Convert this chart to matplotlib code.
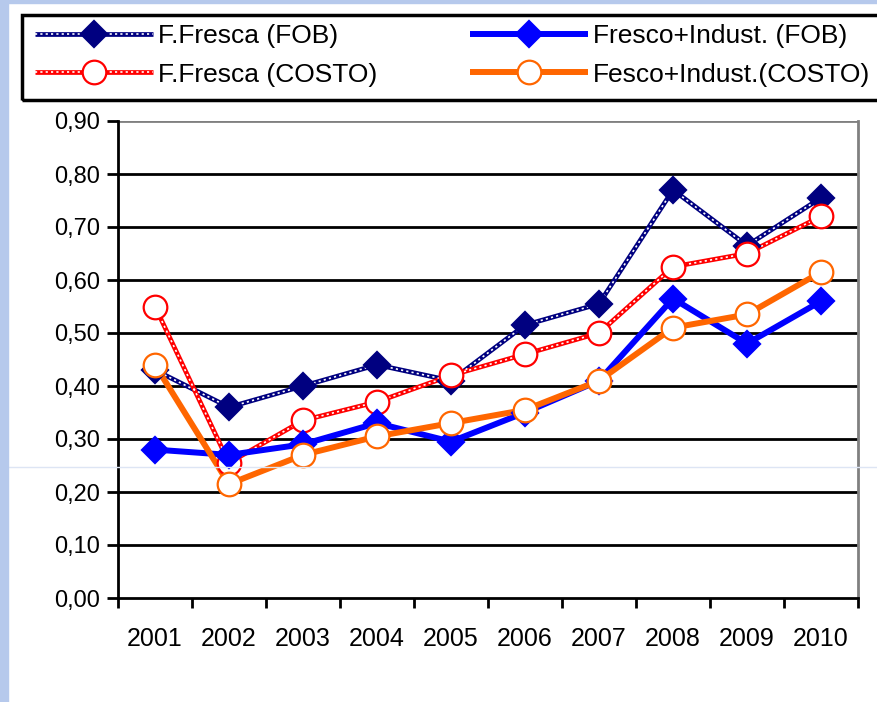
import matplotlib
matplotlib.use('Agg')
import matplotlib.pyplot as plt
from matplotlib.patches import Rectangle
from matplotlib.lines import Line2D
import numpy as np

years = ['2001', '2002', '2003', '2004', '2005', '2006', '2007', '2008', '2009', '2010']
fob_fresca = [0.43, 0.36, 0.40, 0.44, 0.41, 0.515, 0.555, 0.77, 0.665, 0.755]
costo_fresca = [0.55, 0.255, 0.335, 0.37, 0.42, 0.46, 0.50, 0.625, 0.65, 0.72]
fob_total = [0.28, 0.27, 0.29, 0.33, 0.295, 0.35, 0.41, 0.565, 0.48, 0.56]
costo_total = [0.44, 0.215, 0.27, 0.305, 0.33, 0.355, 0.41, 0.51, 0.535, 0.615]
labels = ['F.Fresca (FOB)', 'Fresco+Indust. (FOB)', 'F.Fresca (COSTO)', 'Fesco+Indust.(COSTO)']
y_ticks = [0.0, 0.1, 0.2, 0.3, 0.4, 0.5, 0.6, 0.7, 0.8, 0.9]

plt.rcParams['font.family'] = ['Liberation Sans', 'DejaVu Sans']

navy = '#000080'
red = '#ff0000'
blue = '#0000ff'
orange = '#ff6600'

fig = plt.figure(figsize=(8.77, 7.02), dpi=100)
W, H = 877, 702

# light blue frame strips
fig.patches.append(Rectangle((0, 0), 8 / W, 1, transform=fig.transFigure, color='#b6c9ec', zorder=0))
fig.patches.append(Rectangle((0, 1 - 3 / H), 1, 3 / H, transform=fig.transFigure, color='#b6c9ec', zorder=0))
fig.lines.append(Line2D([0, 1], [1 - 467 / H, 1 - 467 / H], transform=fig.transFigure, color='#dde5f4', lw=1, zorder=0))

ax = fig.add_axes([118 / W, 104 / H, 740 / W, 477 / H])
x = np.arange(len(years))


def dotted_series(vals, color, marker, ms, face):
    base, = ax.plot(x, vals, color=color, lw=3.4, zorder=2, solid_capstyle='butt')
    over, = ax.plot(x, vals, color='white', lw=1.2, dashes=(1.3, 1.9), zorder=2.1)
    mk, = ax.plot(x, vals, ls='none', marker=marker, ms=ms, mfc=face, mec=color, mew=1.6, zorder=5)
    return (base, over, mk)


def solid_series(vals, color, marker, ms, face):
    base, = ax.plot(x, vals, color=color, lw=4.3, zorder=3, solid_capstyle='butt')
    mk, = ax.plot(x, vals, ls='none', marker=marker, ms=ms, mfc=face, mec=color, mew=1.6, zorder=5)
    return (base, mk)


h1 = dotted_series(fob_fresca, navy, 'D', 13, navy)
h3 = dotted_series(costo_fresca, red, 'o', 17, 'white')
h2 = solid_series(fob_total, blue, 'D', 13, blue)
h4 = solid_series(costo_total, orange, 'o', 17, 'white')

ax.set_xlim(-0.5, 9.5)
ax.set_ylim(0, 0.9)
ax.set_yticks(y_ticks)
ax.yaxis.set_major_formatter(plt.FuncFormatter(lambda v, p: ('%.2f' % v).replace('.', ',')))
ax.tick_params(axis='y', labelsize=17)
ax.set_xticks(np.arange(-0.5, 10, 1))
ax.set_xticklabels([])
ax.set_xticks(x, minor=True)
ax.set_xticklabels(years, minor=True, fontsize=18,
                   family=['Liberation Sans Narrow', 'Liberation Sans', 'DejaVu Sans'])
ax.tick_params(axis='x', which='minor', length=0, pad=21)
ax.tick_params(axis='x', which='major', direction='out', length=7, width=2)
ax.tick_params(axis='y', direction='out', length=8, width=2, pad=5)

for v in y_ticks[1:-1]:
    ax.axhline(v, color='black', lw=2, zorder=1)
ax.axhline(0.9, color='#808080', lw=2, zorder=1)
ax.spines['top'].set_visible(False)
ax.spines['right'].set_color('#808080')
ax.spines['right'].set_linewidth(2)
ax.spines['left'].set_linewidth(2)
ax.spines['bottom'].set_linewidth(2)

# legend
fig.patches.append(Rectangle((22 / W, 1 - 100 / H), 870 / W, 85 / H, transform=fig.transFigure,
                             fill=False, edgecolor='black', lw=2.5, zorder=1))
leg = fig.legend([h1, h3, h2, h4], [labels[0], labels[2], labels[1], labels[3]],
                 ncol=2, loc='upper left', bbox_to_anchor=(35 / W, 1 - 24 / H),
                 frameon=False, fontsize=19, numpoints=1, handlelength=4.47,
                 handletextpad=0.19, columnspacing=3.5, labelspacing=0.55, borderpad=0,
                 borderaxespad=0)

fig.savefig('out.png', dpi=100)
